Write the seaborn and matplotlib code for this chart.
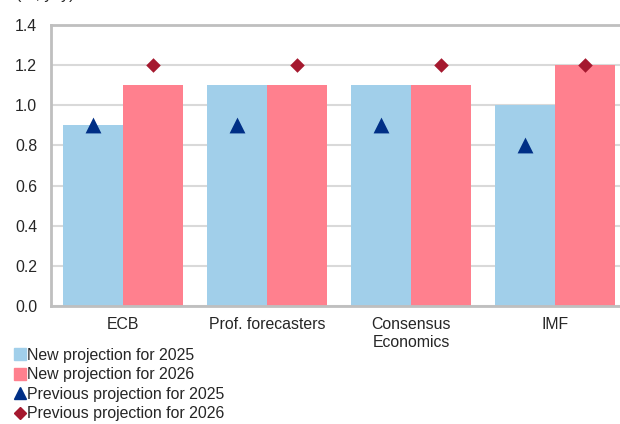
import numpy as np
import pandas as pd
import matplotlib
matplotlib.use('Agg')
import matplotlib.pyplot as plt
import seaborn as sns
from matplotlib.lines import Line2D

# Data
categories = ['ECB', 'Prof. forecasters', 'Consensus\nEconomics', 'IMF']
new_2025 = [0.9, 1.1, 1.1, 1.0]
new_2026 = [1.1, 1.1, 1.1, 1.2]
prev_2025 = [0.9, 0.9, 0.9, 0.8]
prev_2026 = [1.2, 1.2, 1.2, 1.2]
yticks = [0.0, 0.2, 0.4, 0.6, 0.8, 1.0, 1.2, 1.4]

blue = '#A1CFEA'
pink = '#FF808E'
navy = '#002F86'
darkred = '#A5192F'
fs = 11.4

sns.set_style('white')
plt.rcParams['font.family'] = ['Liberation Sans', 'DejaVu Sans']
plt.rcParams['font.size'] = fs

df = pd.DataFrame({
    'cat': categories * 2,
    'value': new_2025 + new_2026,
    'series': ['New projection for 2025'] * 4 + ['New projection for 2026'] * 4,
})

fig = plt.figure(figsize=(6.2, 4.24), dpi=100)
ax = fig.add_axes([51 / 620, 1 - 306 / 424, 576 / 620, 281 / 424])

sns.barplot(data=df, x='cat', y='value', hue='series', palette=[blue, pink],
            width=0.834, gap=0, saturation=1, linewidth=0, ax=ax, legend=False)

# previous projections at the bar centres
n = len(categories)
bars = ax.patches[:2 * n]
x25 = [p.get_x() + p.get_width() / 2 for p in bars[:n]]
x26 = [p.get_x() + p.get_width() / 2 for p in bars[n:]]
ax.scatter(x25, prev_2025, marker='^', s=130, color=navy, zorder=5, linewidths=0)
ax.scatter(x26, prev_2026, marker='D', s=55, color=darkred, zorder=5, linewidths=0)

ax.set_xlim(-0.5, n - 0.5)
ax.set_ylim(0, 1.4)
ax.set_yticks(yticks)
ax.set_yticklabels([f'{v:.1f}' for v in yticks])
ax.yaxis.grid(True, color='#D9D9D9', linewidth=1.5)
ax.set_axisbelow(True)
ax.set_xlabel('')
ax.set_ylabel('')

for side in ['left', 'bottom', 'top']:
    ax.spines[side].set_color('#BFBFBF')
    ax.spines[side].set_linewidth(2)
ax.spines['right'].set_visible(False)

ax.tick_params(axis='y', length=0, pad=10, labelsize=fs)
ax.tick_params(axis='x', which='major', length=0, pad=8, labelsize=fs)
ax.set_xticks(np.arange(-0.5, n, 1.0), minor=True)
ax.tick_params(axis='x', which='minor', length=5, width=1.5, color='#BFBFBF', direction='out')

# unit label, cut off at the top edge as in the source
fig.text(0.025, 1.012, '(%, yoy)', fontsize=fs, va='center')

handles = [
    Line2D([], [], marker='s', color=blue, linestyle='', markersize=8),
    Line2D([], [], marker='s', color=pink, linestyle='', markersize=8),
    Line2D([], [], marker='^', color=navy, linestyle='', markersize=8),
    Line2D([], [], marker='D', color=darkred, linestyle='', markersize=6),
]
labels = ['New projection for 2025', 'New projection for 2026',
          'Previous projection for 2025', 'Previous projection for 2026']
fig.legend(handles, labels, loc='upper left', bbox_to_anchor=(14 / 620, 1 - 348 / 424),
           frameon=False, handlelength=0.7, handletextpad=0.1, labelspacing=0.28,
           borderpad=0, borderaxespad=0, fontsize=fs)

fig.savefig('out.png', dpi=100)
